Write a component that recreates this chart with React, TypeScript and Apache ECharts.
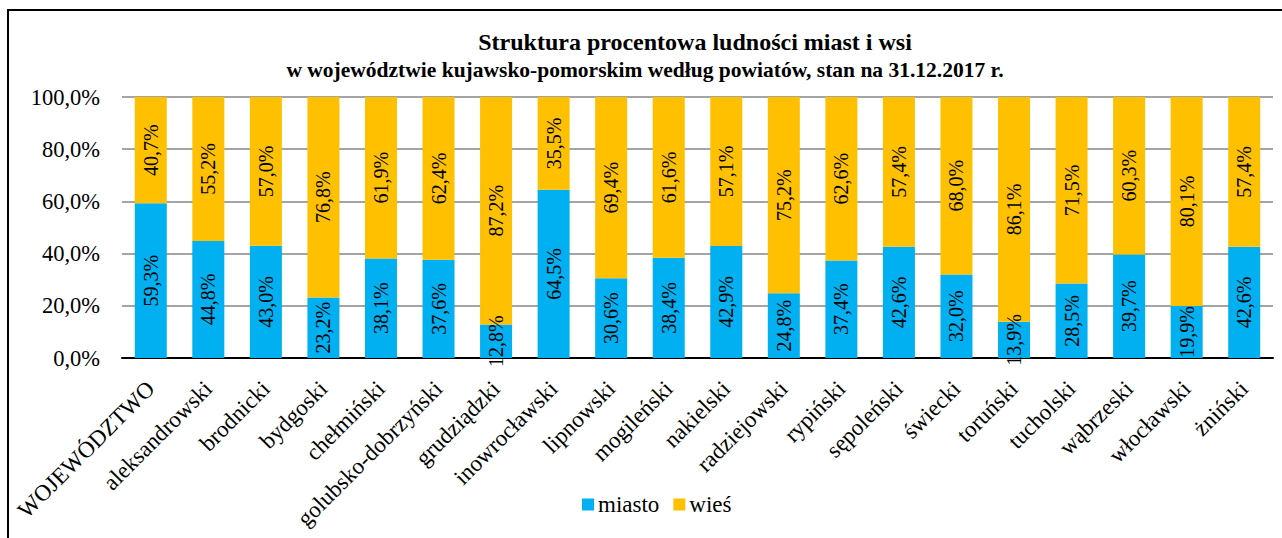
import React, { useEffect, useRef } from "react";
import * as echarts from "echarts";

const categories = [
  "WOJEWÓDZTWO", "aleksandrowski", "brodnicki", "bydgoski", "chełmiński",
  "golubsko-dobrzyński", "grudziądzki", "inowrocławski", "lipnowski", "mogileński",
  "nakielski", "radziejowski", "rypiński", "sępoleński", "świecki",
  "toruński", "tucholski", "wąbrzeski", "włocławski", "żniński",
];
const miasto = [59.3, 44.8, 43.0, 23.2, 38.1, 37.6, 12.8, 64.5, 30.6, 38.4, 42.9, 24.8, 37.4, 42.6, 32.0, 13.9, 28.5, 39.7, 19.9, 42.6];
const wies = [40.7, 55.2, 57.0, 76.8, 61.9, 62.4, 87.2, 35.5, 69.4, 61.6, 57.1, 75.2, 62.6, 57.4, 68.0, 86.1, 71.5, 60.3, 80.1, 57.4];
const titleLine1 = "Struktura procentowa ludności miast i wsi";
const titleLine2 = "w województwie kujawsko-pomorskim według powiatów, stan na 31.12.2017 r.";

const FONT = "Liberation Serif";
const fmt = (v: number) => v.toFixed(1).replace(".", ",") + "%";

export default function App() {
  const ref = useRef<HTMLDivElement>(null);
  useEffect(() => {
    document.body.style.margin = "0";
    const chart = echarts.init(ref.current!, null, { renderer: "svg" });
    const labelStyle = {
      show: true,
      position: "inside" as const,
      rotate: 90,
      fontFamily: FONT,
      fontSize: 20,
      color: "#000",
      formatter: (p: any) => fmt(p.value),
    };
    chart.setOption({
      animation: false,
      textStyle: { fontFamily: FONT },
      graphic: [
        {
          type: "rect",
          shape: { x: 8, y: 10, width: 1300, height: 560 },
          style: { fill: "none", stroke: "#000", lineWidth: 2 },
          silent: true,
          z: -10,
        },
      ],
      title: [
        {
          text: titleLine1,
          left: 690,
          top: 25,
          textAlign: "center",
          textStyle: { fontFamily: FONT, fontSize: 24, fontWeight: "bold", color: "#000" },
        },
        {
          text: titleLine2,
          left: 640,
          top: 54,
          textAlign: "center",
          textStyle: { fontFamily: FONT, fontSize: 21.5, fontWeight: "bold", color: "#000" },
        },
      ],
      legend: {
        left: 577,
        top: 488,
        itemWidth: 12,
        itemHeight: 12,
        itemGap: 14,
        icon: "rect",
        textStyle: { fontFamily: FONT, fontSize: 23, color: "#000", padding: [0, 0, 0, -1] },
        data: ["miasto", "wieś"],
      },
      grid: { left: 122, right: 9, top: 97, bottom: 180 },
      xAxis: {
        type: "category",
        data: categories,
        axisLine: { lineStyle: { color: "#000", width: 2 } },
        axisTick: { show: false },
        axisLabel: {
          rotate: 45,
          interval: 0,
          margin: 27,
          fontFamily: FONT,
          fontSize: 23,
          color: "#000",
        },
      },
      yAxis: {
        type: "value",
        min: 0,
        max: 100,
        interval: 20,
        axisLine: { show: false },
        axisTick: { show: false },
        splitLine: { lineStyle: { color: "#868686", width: 1.5 } },
        axisLabel: {
          margin: 22,
          fontFamily: FONT,
          fontSize: 22.5,
          color: "#000",
          formatter: (v: number) => fmt(v),
        },
      },
      series: [
        {
          name: "miasto",
          type: "bar",
          stack: "total",
          barWidth: 32,
          data: miasto,
          itemStyle: { color: "#00B0F0" },
          label: labelStyle,
        },
        {
          name: "wieś",
          type: "bar",
          stack: "total",
          barWidth: 32,
          data: wies,
          itemStyle: { color: "#FFC000" },
          label: labelStyle,
        },
      ],
    });
    return () => chart.dispose();
  }, []);
  return <div ref={ref} style={{ width: 1282, height: 538 }} />;
}
